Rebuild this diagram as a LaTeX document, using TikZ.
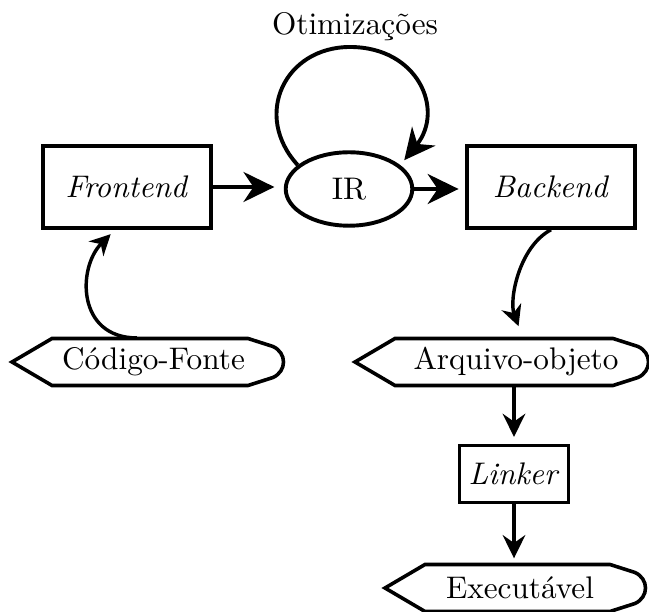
\documentclass[tikz,border=0pt]{standalone}
\usetikzlibrary{arrows.meta,shapes.geometric}
\newcommand\myfileshape[3]{%
  \draw[fileline] (#1,#3) -- (#1+40,#3-23.5) -- (#2-37,#3-23.5) -- (#2-12,#3-15.5)
    .. controls (#2+2,#3-9) and (#2+2,#3+9) .. (#2-12,#3+15.5)
    -- (#2-37,#3+23.5) -- (#1+40,#3+23.5) -- cycle;}
\begin{document}
\begin{tikzpicture}[x=0.32pt,y=-0.32pt,
  box/.style={draw,line width=1.35pt,minimum width=53.8pt,minimum height=26pt,inner sep=0pt},
  smallbox/.style={draw,line width=0.9pt,minimum width=35pt,minimum height=18pt,inner sep=0pt},
  irshape/.style={draw,ellipse,line width=1.25pt,minimum width=40.5pt,minimum height=23.5pt,inner sep=0pt},
  filetext/.style={inner sep=0pt,minimum height=15pt},
  fileline/.style={line width=1.15pt,line join=miter},
  arr/.style={line width=1.25pt,-{Stealth[length=9.9pt,width=9.6pt,inset=3.2pt]}},
  arrmid/.style={line width=1.3pt,-{Stealth[length=7.4pt,width=7.2pt,inset=2.5pt]}},
  arrsmall/.style={line width=1.1pt,-{Stealth[length=6.6pt,width=6.6pt,inset=2.1pt]}},
  lbl/.style={inner sep=0pt}]
\useasboundingbox (0,0) rectangle (649,612);

\node[lbl] (ot) at (355,27) {Otimizações};
\node[box] (fe) at (127,187) {\textit{Frontend}};
\node[irshape] (ir) at (349,189) {IR};
\node[box] (be) at (551,187) {\textit{Backend}};

\myfileshape{12}{285}{362}
\node[filetext] (cf) at (153.5,362) {Código-Fonte};
\myfileshape{355}{650}{362}
\node[filetext] (ao) at (516,362) {Arquivo-objeto};
\node[smallbox] (lk) at (514,474) {\textit{Linker}};
\myfileshape{385}{647}{588}
\node[filetext] (ex) at (520,588) {Executável};

\draw[arr,shorten >=3pt] (fe.east) -- (fe.east -| ir.west);
\draw[arr,shorten >=2pt] (ir.east) -- (ir.east -| be.west);
\draw[arr,shorten >=2pt] (ir.155) .. controls (252,115) and (285,47) .. (350,47)
   .. controls (418,47) and (445,110) .. (ir.25);
\draw[arrsmall,shorten >=2pt] ([xshift=-5.3pt]cf.north) .. controls +(-60,0) and +(-38,38) .. ([xshift=-3.8pt]fe.south);
\draw[arrsmall,shorten >=4pt] (be.south) .. controls +(-32,17) and +(-14,-38) .. ([xshift=2.2pt]ao.north);
\draw[arrmid,shorten >=2.4pt] (ao.south -| lk.north) -- (lk.north);
\draw[arrmid,shorten >=1.8pt] (lk.south) -- (lk.south |- ex.north);
\end{tikzpicture}
\end{document}
